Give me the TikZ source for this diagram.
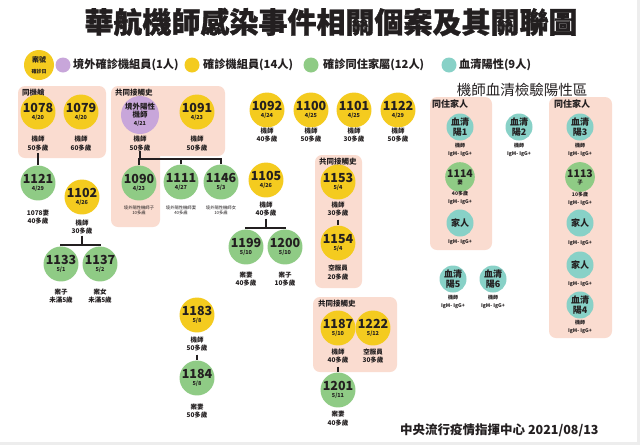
\documentclass[tikz,border=0pt]{standalone}
\usepackage{fontspec}
\setmainfont{Noto Sans CJK TC}
\newfontfamily\ttlfont{Noto Sans CJK TC}[BoldFeatures={FakeBold=1.2}]
\definecolor{cyel}{HTML}{F4CB1F}
\definecolor{cgrn}{HTML}{8FCB85}
\definecolor{ctea}{HTML}{88D1C7}
\definecolor{cpur}{HTML}{C8A6DA}
\definecolor{cbox}{HTML}{FADCD0}
\definecolor{ctxt}{HTML}{231F20}
\newcommand\fsz[1]{\fontsize{#1}{#1}\selectfont}
\newcommand\cnum[2]{{\fsz{12.5}\bfseries #1}\\[1pt]{\fsz{5.5}\bfseries #2}}
\newcommand\snum[2]{{\fsz{10.5}\bfseries #1}\\[1pt]{\fsz{5.5}\bfseries #2}}
\tikzset{
  case/.style={circle, inner sep=0pt, minimum size=32pt, align=center, text=ctxt, font=\fsz{6}},
  yc/.style={case, fill=cyel},
  gc/.style={case, fill=cgrn},
  tc/.style={circle, inner sep=0pt, minimum size=27pt, align=center, fill=ctea, text=ctxt, font={\fontsize{9}{10.5}\selectfont\bfseries}},
  sgc/.style={circle, inner sep=0pt, minimum size=27pt, align=center, fill=cgrn, text=ctxt, font=\fsz{6}},
  capt/.style={align=center, inner sep=0pt, text=ctxt, font={\fontsize{6.5}{8.5}\selectfont\bfseries}},
  tinycap/.style={align=center, inner sep=0pt, text=ctxt, font={\fontsize{4.3}{5}\selectfont}},
  igm/.style={align=center, inner sep=0pt, text=ctxt, font={\fontsize{5}{7.5}\selectfont\bfseries}},
  boxfill/.style={fill=cbox, rounded corners=7pt},
  boxlab/.style={anchor=west, inner sep=0pt, text=ctxt, font={\fsz{7.5}\bfseries}},
  boxlabb/.style={anchor=west, inner sep=0pt, text=ctxt, font={\fsz{9}\bfseries}},
  conn/.style={line width=1.8pt, draw=ctxt},
  leg/.style={anchor=west, inner sep=0pt, text=ctxt, font={\fsz{11.2}\bfseries}},
  legdot/.style={circle, inner sep=0pt, minimum size=15pt}
}
\begin{document}
\begin{tikzpicture}[x=1pt,y=-1pt]
\useasboundingbox (0,0) rectangle (640,445);
\fill[white] (0,0) rectangle (640,445);
\fill[black!7] (637,0) rectangle (640,445);
\fill[black!7] (0,442) rectangle (640,445);

% title
\node[text=ctxt, font={\ttlfont\fsz{29}\bfseries}] (title) at (331,22) {華航機師感染事件相關個案及其關聯圖};

% legend
\node[circle, fill=cyel, minimum size=30pt, inner sep=0pt, align=center, text=ctxt] (legc) at (39,65) {{\fsz{7}\bfseries 案號}\\[-1pt]{\fsz{5}\bfseries 確診日}};
\node[legdot, fill=cpur] (dp) at (63,65) {};
\node[leg] (tp) at (73,65) {境外確診機組員(1人)};
\node[legdot, fill=cyel] (dy) at (192,65) {};
\node[leg] (ty) at (203,65) {確診機組員(14人)};
\node[legdot, fill=cgrn] (dg) at (311,65) {};
\node[leg] (tg) at (323,65) {確診同住家屬(12人)};
\node[legdot, fill=ctea] (dt) at (449,65) {};
\node[leg] (tt) at (459,65) {血清陽性(9人)};

\node[text=ctxt, font=\fsz{14.5}] (sero) at (522,90) {機師血清檢驗陽性區};

% boxes
\fill[boxfill] (18,86) rectangle (106,158);
\fill[boxfill] (111,86) rectangle (225,156);
\fill[boxfill] (111,140) rectangle (160,227);
\fill[boxfill] (315,155) rectangle (362,288);
\fill[boxfill] (313,297) rectangle (397,372);
\fill[boxfill] (430,97) rectangle (492,250);
\fill[boxfill] (549,97) rectangle (612,338);

\node[boxlab] (bl1) at (22,93) {同機艙};
\node[boxlab] (bl2) at (115,93) {共同接觸史};
\node[boxlab] (bl3) at (319,162) {共同接觸史};
\node[boxlab] (bl4) at (318,304) {共同接觸史};
\node[boxlabb] (bl5) at (432,104) {同住家人};
\node[boxlabb] (bl6) at (554,104) {同住家人};

% row 1
\node[yc] (n1078) at (38,112) {\cnum{1078}{4/20}};
\node[capt] (l1078) at (38,143.5) {機師\\50多歲};
\node[yc] (n1079) at (81,112) {\cnum{1079}{4/20}};
\node[capt] (l1079) at (81,143.5) {機師\\60多歲};
\node[case, fill=cpur, minimum size=34pt, font={\fontsize{7.5}{8}\selectfont\bfseries}] (np) at (140,115) {境外陽性\\機師\\{\fsz{5.5}4/21}};
\node[capt] (lp) at (140,143.5) {機師\\50多歲};
\node[yc] (n1091) at (197,112) {\cnum{1091}{4/23}};
\node[capt] (l1091) at (197,143.5) {機師\\50多歲};
\node[yc] (n1092) at (267,110) {\cnum{1092}{4/24}};
\node[capt] (l1092) at (267,135) {機師\\40多歲};
\node[yc] (n1100) at (311,110) {\cnum{1100}{4/25}};
\node[capt] (l1100) at (311,135) {機師\\50多歲};
\node[yc] (n1101) at (354,110) {\cnum{1101}{4/25}};
\node[capt] (l1101) at (354,135) {機師\\30多歲};
\node[yc] (n1122) at (398,110) {\cnum{1122}{4/29}};
\node[capt] (l1122) at (398,135) {機師\\50多歲};

% row 2
\node[gc] (n1121) at (38,183) {\cnum{1121}{4/29}};
\node[capt] (l1121) at (38,217) {1078妻\\40多歲};
\node[yc] (n1102) at (82,197) {\cnum{1102}{4/26}};
\node[capt] (l1102) at (82,227) {機師\\30多歲};
\node[gc] (n1090) at (139,183) {\cnum{1090}{4/23}};
\node[tinycap] (l1090) at (139,210.5) {境外陽性機師子\\10多歲};
\node[gc] (n1111) at (181,182) {\cnum{1111}{4/27}};
\node[tinycap] (l1111) at (181,210.5) {境外陽性機師妻\\40多歲};
\node[gc] (n1146) at (221,182) {\cnum{1146}{5/3}};
\node[tinycap] (l1146) at (221,210.5) {境外陽性機師女\\10多歲};
\node[yc] (n1105) at (266,180) {\cnum{1105}{4/26}};
\node[capt] (l1105) at (266,209) {機師\\40多歲};
\node[yc] (n1153) at (338,182) {\cnum{1153}{5/4}};
\node[capt] (l1153) at (338,209) {機師\\30多歲};
\node[yc] (n1154) at (338,243) {\cnum{1154}{5/4}};
\node[capt] (l1154) at (338,272.5) {空服員\\20多歲};
\node[gc] (n1199) at (246,247) {\cnum{1199}{5/10}};
\node[capt] (l1199) at (246,279) {案妻\\40多歲};
\node[gc] (n1200) at (285,247) {\cnum{1200}{5/10}};
\node[capt] (l1200) at (285,279) {案子\\10多歲};
\node[gc] (n1133) at (61,264) {\cnum{1133}{5/1}};
\node[capt] (l1133) at (61,296) {案子\\未滿5歲};
\node[gc] (n1137) at (100,264) {\cnum{1137}{5/2}};
\node[capt] (l1137) at (100,296) {案女\\未滿5歲};
\node[yc] (n1183) at (197,315) {\cnum{1183}{5/8}};
\node[capt] (l1183) at (197,344) {機師\\50多歲};
\node[gc] (n1184) at (197,378) {\cnum{1184}{5/8}};
\node[capt] (l1184) at (197,411) {案妻\\50多歲};
\node[yc] (n1187) at (338,328) {\cnum{1187}{5/10}};
\node[capt] (l1187) at (338,356) {機師\\40多歲};
\node[yc] (n1222) at (373,328) {\cnum{1222}{5/12}};
\node[capt] (l1222) at (373,356) {空服員\\30多歲};
\node[gc] (n1201) at (338,390) {\cnum{1201}{5/11}};
\node[capt] (l1201) at (338,418.5) {案妻\\40多歲};

% serology
\node[tc] (s1) at (460,127) {血清\\陽1};
\node[igm] (ls1) at (460,150) {機師\\IgM- IgG+};
\node[tc] (s2) at (519,127) {血清\\陽2};
\node[igm] (ls2) at (519,150) {機師\\IgM- IgG+};
\node[tc] (s3) at (580,127) {血清\\陽3};
\node[igm] (ls3) at (580,150) {機師\\IgM- IgG+};
\node[sgc] (n1114) at (460,177) {\snum{1114}{妻}};
\node[igm] (l1114) at (460,198) {40多歲\\IgM- IgG+};
\node[tc] (fa1) at (460,223) {家人};
\node[igm] (lfa1) at (460,242) {IgM- IgG+};
\node[tc] (s5) at (453,279) {血清\\陽5};
\node[igm] (ls5) at (453,302) {機師\\IgM- IgG+};
\node[tc] (s6) at (493,279) {血清\\陽6};
\node[igm] (ls6) at (493,302) {機師\\IgM- IgG+};
\node[sgc] (n1113) at (580,177) {\snum{1113}{子}};
\node[igm] (l1113) at (580,199) {10多歲\\IgM- IgG+};
\node[tc] (fa2) at (580,223) {家人};
\node[igm] (lfa2) at (580,243) {IgM- IgG+};
\node[tc] (fa3) at (580,265) {家人};
\node[igm] (lfa3) at (580,284) {IgM- IgG+};
\node[tc] (s4) at (580,305) {血清\\陽4};
\node[igm] (ls4) at (580,327) {機師\\IgM- IgG+};

% connectors
\draw[conn, shorten <=2pt] (l1078.south) -- (n1121.north);
\coordinate (bp) at (140,159);
\draw[conn] (lp.south) -- (bp);
\draw[conn] (n1090.north) |- (bp) -| (n1146.north);
\draw[conn] (n1111.north) -- (n1111.north |- bp);
\coordinate (b1102) at (82,245);
\draw[conn, shorten <=1pt] (l1102.south) -- (b1102);
\draw[conn] (n1133.north) |- (b1102) -| (n1137.north);
\coordinate (b1105) at (266,228);
\draw[conn, shorten <=2pt] (l1105.south) -- (b1105);
\draw[conn] (n1199.north) |- (b1105) -| (n1200.north);
\draw[conn, shorten <=3pt] (l1153.south) -- (n1154.north);
\draw[conn, shorten <=3pt] (l1183.south) -- (n1184.north);
\draw[conn, shorten <=3pt] (l1187.south) -- (n1201.north);

% source
\node[anchor=west, inner sep=0pt, text=ctxt, font={\fsz{12.5}\bfseries}] (src) at (400,430) {中央流行疫情指揮中心 2021/08/13};
\end{tikzpicture}
\end{document}
